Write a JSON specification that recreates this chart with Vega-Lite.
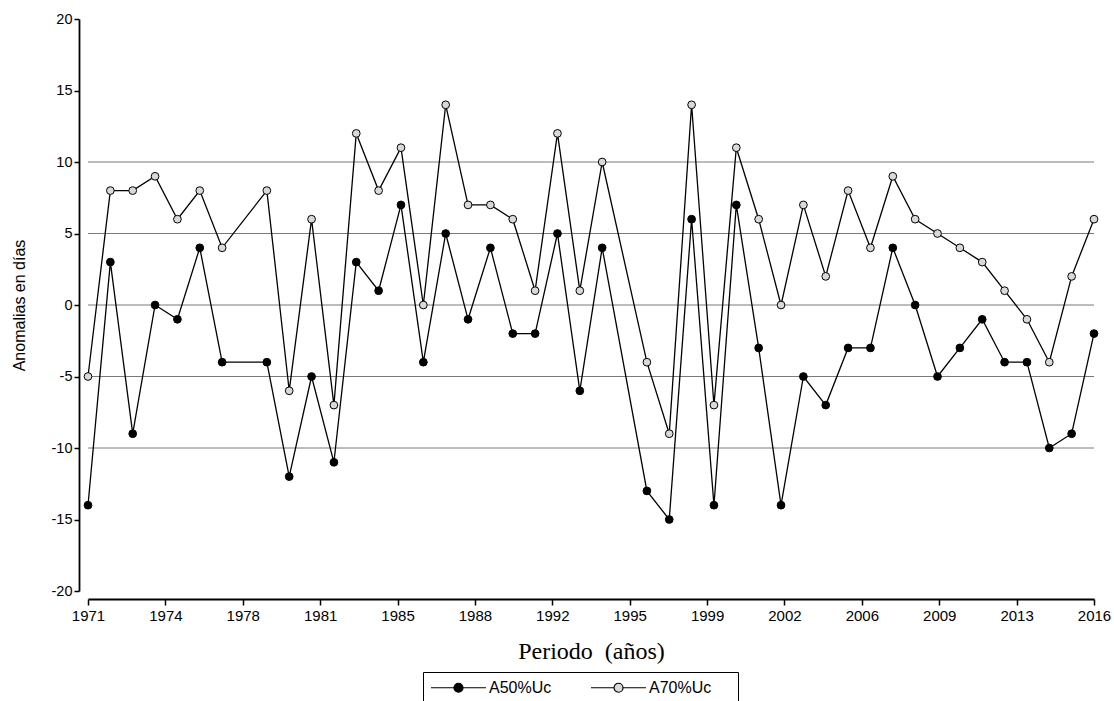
{
  "$schema": "https://vega.github.io/schema/vega-lite/v6.json",
  "width": 1006,
  "height": 572,
  "autosize": {"type": "none"},
  "padding": {"left": 88, "top": 19, "right": 20, "bottom": 110},
  "background": "white",
  "config": {
    "view": {"stroke": null},
    "font": "Liberation Sans",
    "axis": {
      "grid": false,
      "domainColor": "black",
      "domainWidth": 1.8,
      "tickColor": "black",
      "tickWidth": 1.5,
      "labelColor": "black",
      "labelFont": "Liberation Sans",
      "titleColor": "black",
      "titleFontWeight": "normal"
    }
  },
  "data": {
    "values": [
      {"year": 1971, "serie": "A50%Uc", "value": -14}, {"year": 1971, "serie": "A70%Uc", "value": -5},
      {"year": 1972, "serie": "A50%Uc", "value": 3}, {"year": 1972, "serie": "A70%Uc", "value": 8},
      {"year": 1973, "serie": "A50%Uc", "value": -9}, {"year": 1973, "serie": "A70%Uc", "value": 8},
      {"year": 1974, "serie": "A50%Uc", "value": 0}, {"year": 1974, "serie": "A70%Uc", "value": 9},
      {"year": 1975, "serie": "A50%Uc", "value": -1}, {"year": 1975, "serie": "A70%Uc", "value": 6},
      {"year": 1976, "serie": "A50%Uc", "value": 4}, {"year": 1976, "serie": "A70%Uc", "value": 8},
      {"year": 1977, "serie": "A50%Uc", "value": -4}, {"year": 1977, "serie": "A70%Uc", "value": 4},
      {"year": 1979, "serie": "A50%Uc", "value": -4}, {"year": 1979, "serie": "A70%Uc", "value": 8},
      {"year": 1980, "serie": "A50%Uc", "value": -12}, {"year": 1980, "serie": "A70%Uc", "value": -6},
      {"year": 1981, "serie": "A50%Uc", "value": -5}, {"year": 1981, "serie": "A70%Uc", "value": 6},
      {"year": 1982, "serie": "A50%Uc", "value": -11}, {"year": 1982, "serie": "A70%Uc", "value": -7},
      {"year": 1983, "serie": "A50%Uc", "value": 3}, {"year": 1983, "serie": "A70%Uc", "value": 12},
      {"year": 1984, "serie": "A50%Uc", "value": 1}, {"year": 1984, "serie": "A70%Uc", "value": 8},
      {"year": 1985, "serie": "A50%Uc", "value": 7}, {"year": 1985, "serie": "A70%Uc", "value": 11},
      {"year": 1986, "serie": "A50%Uc", "value": -4}, {"year": 1986, "serie": "A70%Uc", "value": 0},
      {"year": 1987, "serie": "A50%Uc", "value": 5}, {"year": 1987, "serie": "A70%Uc", "value": 14},
      {"year": 1988, "serie": "A50%Uc", "value": -1}, {"year": 1988, "serie": "A70%Uc", "value": 7},
      {"year": 1989, "serie": "A50%Uc", "value": 4}, {"year": 1989, "serie": "A70%Uc", "value": 7},
      {"year": 1990, "serie": "A50%Uc", "value": -2}, {"year": 1990, "serie": "A70%Uc", "value": 6},
      {"year": 1991, "serie": "A50%Uc", "value": -2}, {"year": 1991, "serie": "A70%Uc", "value": 1},
      {"year": 1992, "serie": "A50%Uc", "value": 5}, {"year": 1992, "serie": "A70%Uc", "value": 12},
      {"year": 1993, "serie": "A50%Uc", "value": -6}, {"year": 1993, "serie": "A70%Uc", "value": 1},
      {"year": 1994, "serie": "A50%Uc", "value": 4}, {"year": 1994, "serie": "A70%Uc", "value": 10},
      {"year": 1996, "serie": "A50%Uc", "value": -13}, {"year": 1996, "serie": "A70%Uc", "value": -4},
      {"year": 1997, "serie": "A50%Uc", "value": -15}, {"year": 1997, "serie": "A70%Uc", "value": -9},
      {"year": 1998, "serie": "A50%Uc", "value": 6}, {"year": 1998, "serie": "A70%Uc", "value": 14},
      {"year": 1999, "serie": "A50%Uc", "value": -14}, {"year": 1999, "serie": "A70%Uc", "value": -7},
      {"year": 2000, "serie": "A50%Uc", "value": 7}, {"year": 2000, "serie": "A70%Uc", "value": 11},
      {"year": 2001, "serie": "A50%Uc", "value": -3}, {"year": 2001, "serie": "A70%Uc", "value": 6},
      {"year": 2002, "serie": "A50%Uc", "value": -14}, {"year": 2002, "serie": "A70%Uc", "value": 0},
      {"year": 2003, "serie": "A50%Uc", "value": -5}, {"year": 2003, "serie": "A70%Uc", "value": 7},
      {"year": 2004, "serie": "A50%Uc", "value": -7}, {"year": 2004, "serie": "A70%Uc", "value": 2},
      {"year": 2005, "serie": "A50%Uc", "value": -3}, {"year": 2005, "serie": "A70%Uc", "value": 8},
      {"year": 2006, "serie": "A50%Uc", "value": -3}, {"year": 2006, "serie": "A70%Uc", "value": 4},
      {"year": 2007, "serie": "A50%Uc", "value": 4}, {"year": 2007, "serie": "A70%Uc", "value": 9},
      {"year": 2008, "serie": "A50%Uc", "value": 0}, {"year": 2008, "serie": "A70%Uc", "value": 6},
      {"year": 2009, "serie": "A50%Uc", "value": -5}, {"year": 2009, "serie": "A70%Uc", "value": 5},
      {"year": 2010, "serie": "A50%Uc", "value": -3}, {"year": 2010, "serie": "A70%Uc", "value": 4},
      {"year": 2011, "serie": "A50%Uc", "value": -1}, {"year": 2011, "serie": "A70%Uc", "value": 3},
      {"year": 2012, "serie": "A50%Uc", "value": -4}, {"year": 2012, "serie": "A70%Uc", "value": 1},
      {"year": 2013, "serie": "A50%Uc", "value": -4}, {"year": 2013, "serie": "A70%Uc", "value": -1},
      {"year": 2014, "serie": "A50%Uc", "value": -10}, {"year": 2014, "serie": "A70%Uc", "value": -4},
      {"year": 2015, "serie": "A50%Uc", "value": -9}, {"year": 2015, "serie": "A70%Uc", "value": 2},
      {"year": 2016, "serie": "A50%Uc", "value": -2}, {"year": 2016, "serie": "A70%Uc", "value": 6}
    ]
  },
  "layer": [
    {
      "data": {"values": [{"value": 10}, {"value": 5}, {"value": 0}, {"value": -5}, {"value": -10}]},
      "mark": {"type": "rule", "color": "#7a7a7a", "strokeWidth": 1},
      "encoding": {
        "y": {"field": "value", "type": "quantitative", "title": "Anomalias en días", "scale": {"domain": [-20, 20], "nice": false, "zero": false}}
      }
    },
    {
      "encoding": {
        "x": {
          "field": "year",
          "type": "quantitative",
          "scale": {"domain": [1971, 2016], "nice": false, "zero": false},
          "axis": {
            "title": "Periodo\u00a0\u00a0(años)",
            "titleFont": "Liberation Serif",
            "titleFontSize": 24,
            "titlePadding": 16,
            "values": [1971, 1974.4615, 1977.9231, 1981.3846, 1984.8462, 1988.3077, 1991.7692, 1995.2308, 1998.6923, 2002.1538, 2005.6154, 2009.0769, 2012.5385, 2016],
            "labelExpr": "'' + round(datum.value)",
            "labelFontSize": 15,
            "labelPadding": 3,
            "tickSize": 6,
            "offset": 8,
            "labelOverlap": false,
            "labelFlush": false
          }
        },
        "y": {
          "field": "value",
          "type": "quantitative",
          "title": "Anomalias en días",
          "scale": {"domain": [-20, 20], "nice": false, "zero": false},
          "axis": {
            "values": [-20, -15, -10, -5, 0, 5, 10, 15, 20],
            "labelExpr": "'' + datum.value",
            "labelFontSize": 14.5,
            "labelPadding": 2,
            "tickSize": 5,
            "offset": 9,
            "titleFont": "Liberation Sans",
            "titleFontSize": 16,
            "titlePadding": 24,
            "labelFlush": false,
            "labelOverlap": false
          }
        }
      },
      "layer": [
        {
          "mark": {"type": "line", "color": "black", "strokeWidth": 1.3},
          "encoding": {"detail": {"field": "serie", "type": "nominal"}}
        },
        {
          "mark": {"type": "point", "shape": "circle", "filled": true, "stroke": "black", "strokeWidth": 1, "size": 60, "opacity": 1},
          "encoding": {
            "fill": {
              "field": "serie",
              "type": "nominal",
              "scale": {"domain": ["A50%Uc", "A70%Uc"], "range": ["black", "#d9d9d9"]},
              "legend": {
                "title": " ",
                "titleOrient": "right",
                "titlePadding": 20,
                "titleFontSize": 16,
                "orient": "none",
                "legendX": 335,
                "legendY": 653,
                "direction": "horizontal",
                "symbolType": "M-1,0L2.067,0M3.267,0L6.333,0M2.067,0A0.6,0.6,0,1,0,3.267,0A0.6,0.6,0,1,0,2.067,0Z",
                "symbolSize": 225,
                "symbolStrokeColor": "black",
                "symbolStrokeWidth": 1.2,
                "labelFont": "Liberation Sans",
                "labelFontSize": 16,
                "labelColor": "black",
                "labelOffset": 42,
                "columnPadding": 36,
                "padding": 7,
                "strokeColor": "black",
                "encode": {"legend": {"update": {"strokeWidth": {"value": 2}}}}
              }
            }
          }
        }
      ]
    }
  ]
}
